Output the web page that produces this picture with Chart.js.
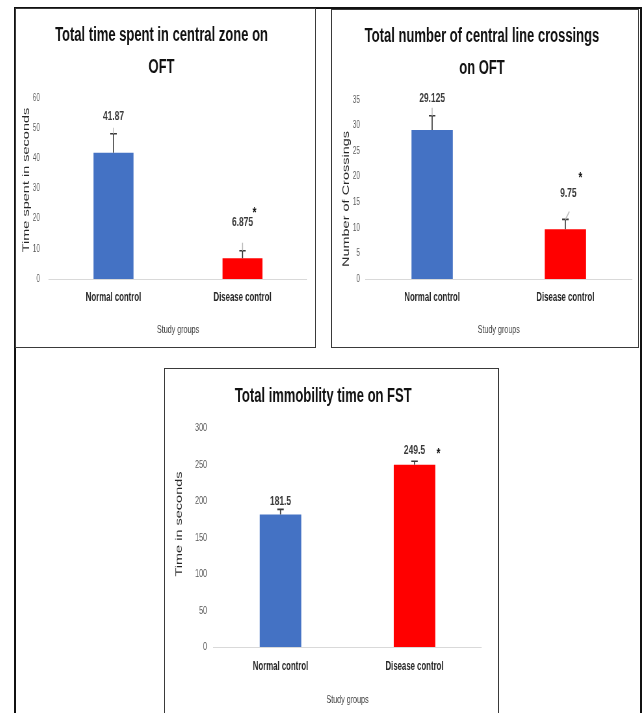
<!DOCTYPE html>
<html>
<head>
<meta charset="utf-8">
<script src="https://cdn.jsdelivr.net/npm/chart.js@4.4.1/dist/chart.umd.min.js"></script>
<style>
  html, body { margin: 0; padding: 0; background: #fff; }
  body { width: 642px; height: 713px; position: relative; overflow: hidden; }
  .frame { position: absolute; left: 14px; top: 7px; width: 624px; height: 730px; border: 2px solid #111; }
  .box { position: absolute; border: 1px solid #3a3a3a; background: #fff; overflow: hidden; }
  .squeeze { transform-origin: 0 0; }
</style>
</head>
<body>
<div class="frame"></div>
<div class="box" style="left:15px; top:8px; width:299px; height:338px;"><div class="squeeze"><canvas id="chartTime"></canvas></div></div>
<div class="box" style="left:331px; top:9px; width:306px; height:337px;"><div class="squeeze"><canvas id="chartCross"></canvas></div></div>
<div class="box" style="left:164px; top:368px; width:333px; height:356px;"><div class="squeeze"><canvas id="chartFst"></canvas></div></div>

<script>
// the source figure is squashed sideways, so every chart is drawn wide and scaled back
const SQ = 0.65;

const groups = ['Normal control', 'Disease control'];
const significance = ['', '*'];

const centralTime = [41.87, 6.875];
const centralTimeErr = [6.3, 2.5];
const centralTimeTicks = [0, 10, 20, 30, 40, 50, 60];

const crossings = [29.125, 9.75];
const crossingsErr = [2.8, 1.9];
const crossingsTicks = [0, 5, 10, 15, 20, 25, 30, 35];

const immobility = [181.5, 249.5];
const immobilityErr = [7, 5];
const immobilityTicks = [0, 50, 100, 150, 200, 250, 300];

const FONT = "'Liberation Sans', Arial, sans-serif";
Chart.defaults.font.family = FONT;

// error bars, value labels, leader lines and the significance star
const barNotes = {
    id: 'barNotes',
    afterDatasetsDraw(chart, args, o) {
        const ctx = chart.ctx;
        const yScale = chart.scales.y;
        const values = chart.data.datasets[0].data;
        chart.getDatasetMeta(0).data.forEach((bar, i) => {
            const v = values[i];
            const top = yScale.getPixelForValue(v + o.err[i]);
            ctx.save();
            ctx.strokeStyle = '#3a3a3a';
            ctx.lineWidth = 1.6;
            ctx.beginPath();
            ctx.moveTo(bar.x, bar.y);
            ctx.lineTo(bar.x, top);
            ctx.moveTo(bar.x - 5, top);
            ctx.lineTo(bar.x + 5, top);
            ctx.stroke();
            if (o.leader[i]) {
                ctx.strokeStyle = '#bdbdbd';
                ctx.lineWidth = 1.5;
                ctx.beginPath();
                ctx.moveTo(bar.x, top);
                ctx.lineTo(bar.x + o.leaderDx[i] / SQ, top - o.leader[i]);
                ctx.stroke();
            }
            const lx = bar.x + o.labelDx[i] / SQ;
            const ly = top - o.lift[i];
            ctx.fillStyle = '#3a3a3a';
            ctx.font = 'bold 13px ' + FONT;
            ctx.textAlign = 'center';
            ctx.textBaseline = 'middle';
            ctx.fillText(String(v), lx, ly);
            if (significance[i]) {
                ctx.fillStyle = '#111';
                ctx.font = 'bold 15px ' + FONT;
                ctx.fillText(significance[i], lx + o.star[0] / SQ, ly + o.star[1] + 3);
            }
            ctx.restore();
        });
    }
};

// rotated y caption, placed where the original has it (not centred on the plot)
const yCaption = {
    id: 'yCaption',
    afterDraw(chart, args, o) {
        const ctx = chart.ctx;
        ctx.save();
        ctx.translate(o.x, o.y);
        ctx.rotate(-Math.PI / 2);
        ctx.fillStyle = '#262626';
        ctx.font = '14.5px ' + FONT;
        ctx.textAlign = 'center';
        ctx.textBaseline = 'middle';
        ctx.fillText(o.text, 0, 0);
        ctx.restore();
    }
};

function makeChart(id, spec) {
    const canvas = document.getElementById(id);
    const wrap = canvas.parentNode;
    const box = wrap.parentNode;
    const rect = box.getBoundingClientRect();
    const innerL = rect.left + 1, innerT = rect.top + 1;
    const w = Math.round(box.clientWidth / SQ);
    const h = box.clientHeight;
    canvas.width = w;
    canvas.height = h;
    wrap.style.width = w + 'px';
    wrap.style.transform = 'scaleX(' + SQ + ')';

    const g = spec.geo;
    const px = x => (x - innerL) / SQ;
    const py = y => y - innerT;
    const titleLh = 32;
    const lines = spec.title.length;
    const titleTop = py(g.titleY) - titleLh / 2;

    return new Chart(canvas, {
        type: 'bar',
        data: {
            labels: groups,
            datasets: [{
                data: spec.values,
                backgroundColor: ['#4472C4', '#FF0000'],
                barPercentage: 0.31,
                categoryPercentage: 1
            }]
        },
        options: {
            responsive: false,
            animation: false,
            layout: { padding: { left: 0, top: 0, bottom: 0, right: w - px(g.plotR) } },
            plugins: {
                legend: { display: false },
                tooltip: { enabled: false },
                title: {
                    display: true,
                    text: spec.title,
                    color: '#111',
                    font: { size: 20, weight: 'bold', lineHeight: 1.6 },
                    padding: { top: titleTop, bottom: py(g.plotT) - titleTop - titleLh * lines }
                },
                barNotes: spec.notes,
                yCaption: { text: spec.yTitle, x: px(g.yTitleX), y: py(g.yTitleY) }
            },
            scales: {
                x: {
                    grid: { display: false, drawTicks: false },
                    border: { display: true, color: '#d9d9d9' },
                    ticks: { color: '#262626', font: { size: 12, weight: 'bold' }, padding: g.catY - g.plotB - 7.2 },
                    title: {
                        display: true,
                        text: 'Study groups',
                        color: '#404040',
                        font: { size: 11 },
                        padding: { top: 0, bottom: h - py(g.xTitleY) - 6.6 }
                    },
                    afterFit: s => { s.height = h - py(g.plotB); }
                },
                y: {
                    min: spec.ticks[0],
                    max: spec.ticks[spec.ticks.length - 1],
                    afterBuildTicks: s => { s.ticks = spec.ticks.map(v => ({ value: v })); },
                    grid: { display: false, drawTicks: false },
                    border: { display: false },
                    ticks: { color: '#595959', font: { size: spec.tickSize }, padding: (g.plotL - g.tickR) / SQ },
                    afterFit: s => { s.width = px(g.plotL); }
                }
            }
        },
        plugins: [barNotes, yCaption]
    });
}

makeChart('chartTime', {
    title: ['Total time spent in central zone on', 'OFT'],
    yTitle: 'Time spent in seconds',
    values: centralTime,
    ticks: centralTimeTicks,
    tickSize: 10,
    geo: { plotL: 49, plotR: 307, plotT: 98, plotB: 279, tickR: 40, yTitleX: 26.5, yTitleY: 180, titleY: 35, catY: 298, xTitleY: 330 },
    notes: { err: centralTimeErr, lift: [17, 28], labelDx: [0, 0], leader: [6, 8], leaderDx: [0, 0], star: [12, -13] }
});

makeChart('chartCross', {
    title: ['Total number of central line crossings', 'on OFT'],
    yTitle: 'Number of Crossings',
    values: crossings,
    ticks: crossingsTicks,
    tickSize: 10,
    geo: { plotL: 365.5, plotR: 632, plotT: 100, plotB: 279, tickR: 360, yTitleX: 346.5, yTitleY: 199, titleY: 36, catY: 298, xTitleY: 330 },
    notes: { err: crossingsErr, lift: [17, 26], labelDx: [0, 3], leader: [8, 8], leaderDx: [0, 4], star: [12, -19] }
});

makeChart('chartFst', {
    title: ['Total immobility time on FST'],
    yTitle: 'Time in seconds',
    values: immobility,
    ticks: immobilityTicks,
    tickSize: 11,
    geo: { plotL: 213.5, plotR: 481.5, plotT: 428, plotB: 647, tickR: 207, yTitleX: 179.5, yTitleY: 524, titleY: 396, catY: 667, xTitleY: 700 },
    notes: { err: immobilityErr, lift: [8, 11], labelDx: [0, 0], leader: [0, 0], leaderDx: [0, 0], star: [24, 1] }
});
</script>
</body>
</html>
